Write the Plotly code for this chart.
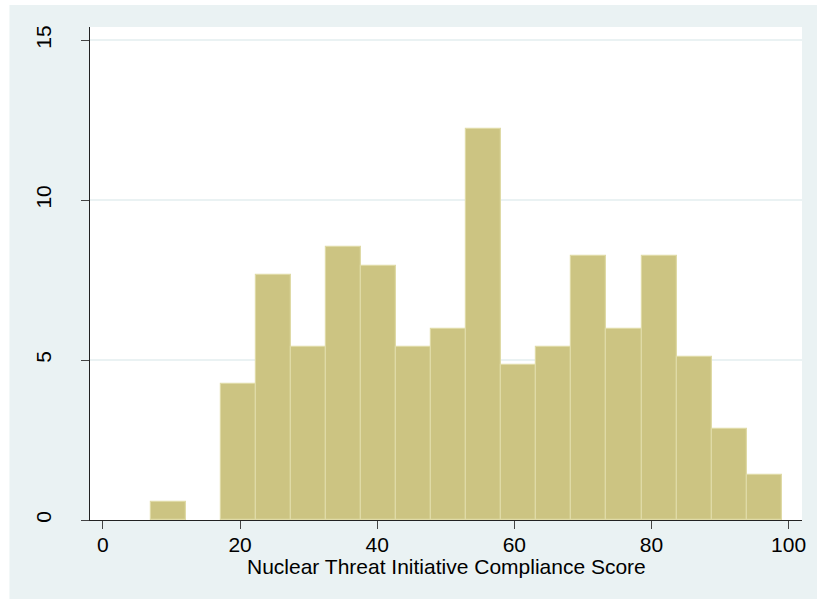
import plotly.graph_objects as go

# Histogram bins (edges) and bar heights (percent)
bin_edges = [7.00, 12.11, 17.22, 22.33, 27.44, 32.56, 37.67, 42.78, 47.89, 53.00,
             58.11, 63.22, 68.33, 73.44, 78.56, 83.67, 88.78, 93.89, 99.00]
percent = [0.57, 0.00, 4.26, 7.67, 5.40, 8.52, 7.95, 5.40, 5.97, 12.22,
           4.83, 5.40, 8.24, 5.97, 8.24, 5.11, 2.84, 1.42]
x_ticks = [0, 20, 40, 60, 80, 100]
y_ticks = [0, 5, 10, 15]
x_title = "Nuclear Threat Initiative Compliance Score"

lefts = bin_edges[:-1]
widths = [b - a for a, b in zip(bin_edges[:-1], bin_edges[1:])]
line_widths = [1.2 if v > 0 else 0 for v in percent]

BG = "#EAF2F3"
FONT = "Liberation Sans, Arial, sans-serif"
FS = 21

W, H = 817, 599
L, R, T, B = 90, 11, 27, 79
PW, PH = W - L - R, H - T - B

fig = go.Figure()
fig.add_trace(go.Bar(
    x=lefts, y=percent, width=widths, offset=0,
    marker=dict(color="#CCC482", line=dict(color="#DFDAA6", width=line_widths)),
    hoverinfo="skip", showlegend=False,
))

fig.update_layout(
    width=W, height=H, autosize=False,
    margin=dict(l=L, r=R, t=T, b=B, pad=0),
    paper_bgcolor=BG, plot_bgcolor="white",
    font=dict(family=FONT, size=FS, color="black"),
    bargap=0,
    shapes=[
        # white strip on the left edge
        dict(type="rect", xref="paper", yref="paper",
             x0=-L / PW - 0.01, x1=(9 - L) / PW, y0=-0.3, y1=1.2,
             fillcolor="white", line=dict(width=0), layer="above"),
        # white strip on the top edge
        dict(type="rect", xref="paper", yref="paper",
             x0=-0.3, x1=1.2, y0=(PH + T - 5) / PH, y1=(PH + T) / PH + 0.01,
             fillcolor="white", line=dict(width=0), layer="above"),
    ],
    annotations=[
        dict(text=x_title, xref="paper", yref="paper", x=0.5, y=-46.5 / PH,
             xanchor="center", yanchor="middle", showarrow=False,
             font=dict(size=FS, family=FONT, color="black")),
    ],
)

fig.update_xaxes(
    range=[-1.885, 101.96], tickmode="array", tickvals=x_ticks,
    ticks="outside", ticklen=8, tickwidth=1, tickcolor="#444",
    showline=True, linecolor="#222", linewidth=1,
    showgrid=False, zeroline=False, ticklabelstandoff=-2,
    tickfont=dict(size=FS, family=FONT, color="black"),
)
fig.update_yaxes(
    range=[0, 15.41], tickmode="array", tickvals=y_ticks,
    ticks="outside", ticklen=8, tickwidth=1, tickcolor="#444",
    showline=True, linecolor="#222", linewidth=1,
    showgrid=True, gridcolor=BG, gridwidth=1.5, zeroline=False,
    tickangle=-90, ticklabelstandoff=22,
    tickfont=dict(size=FS, family=FONT, color="black"),
)

fig.write_html(
    "out.html",
    config={"displayModeBar": False},
    post_script="document.body.style.margin='0';document.body.style.overflow='hidden';",
)
